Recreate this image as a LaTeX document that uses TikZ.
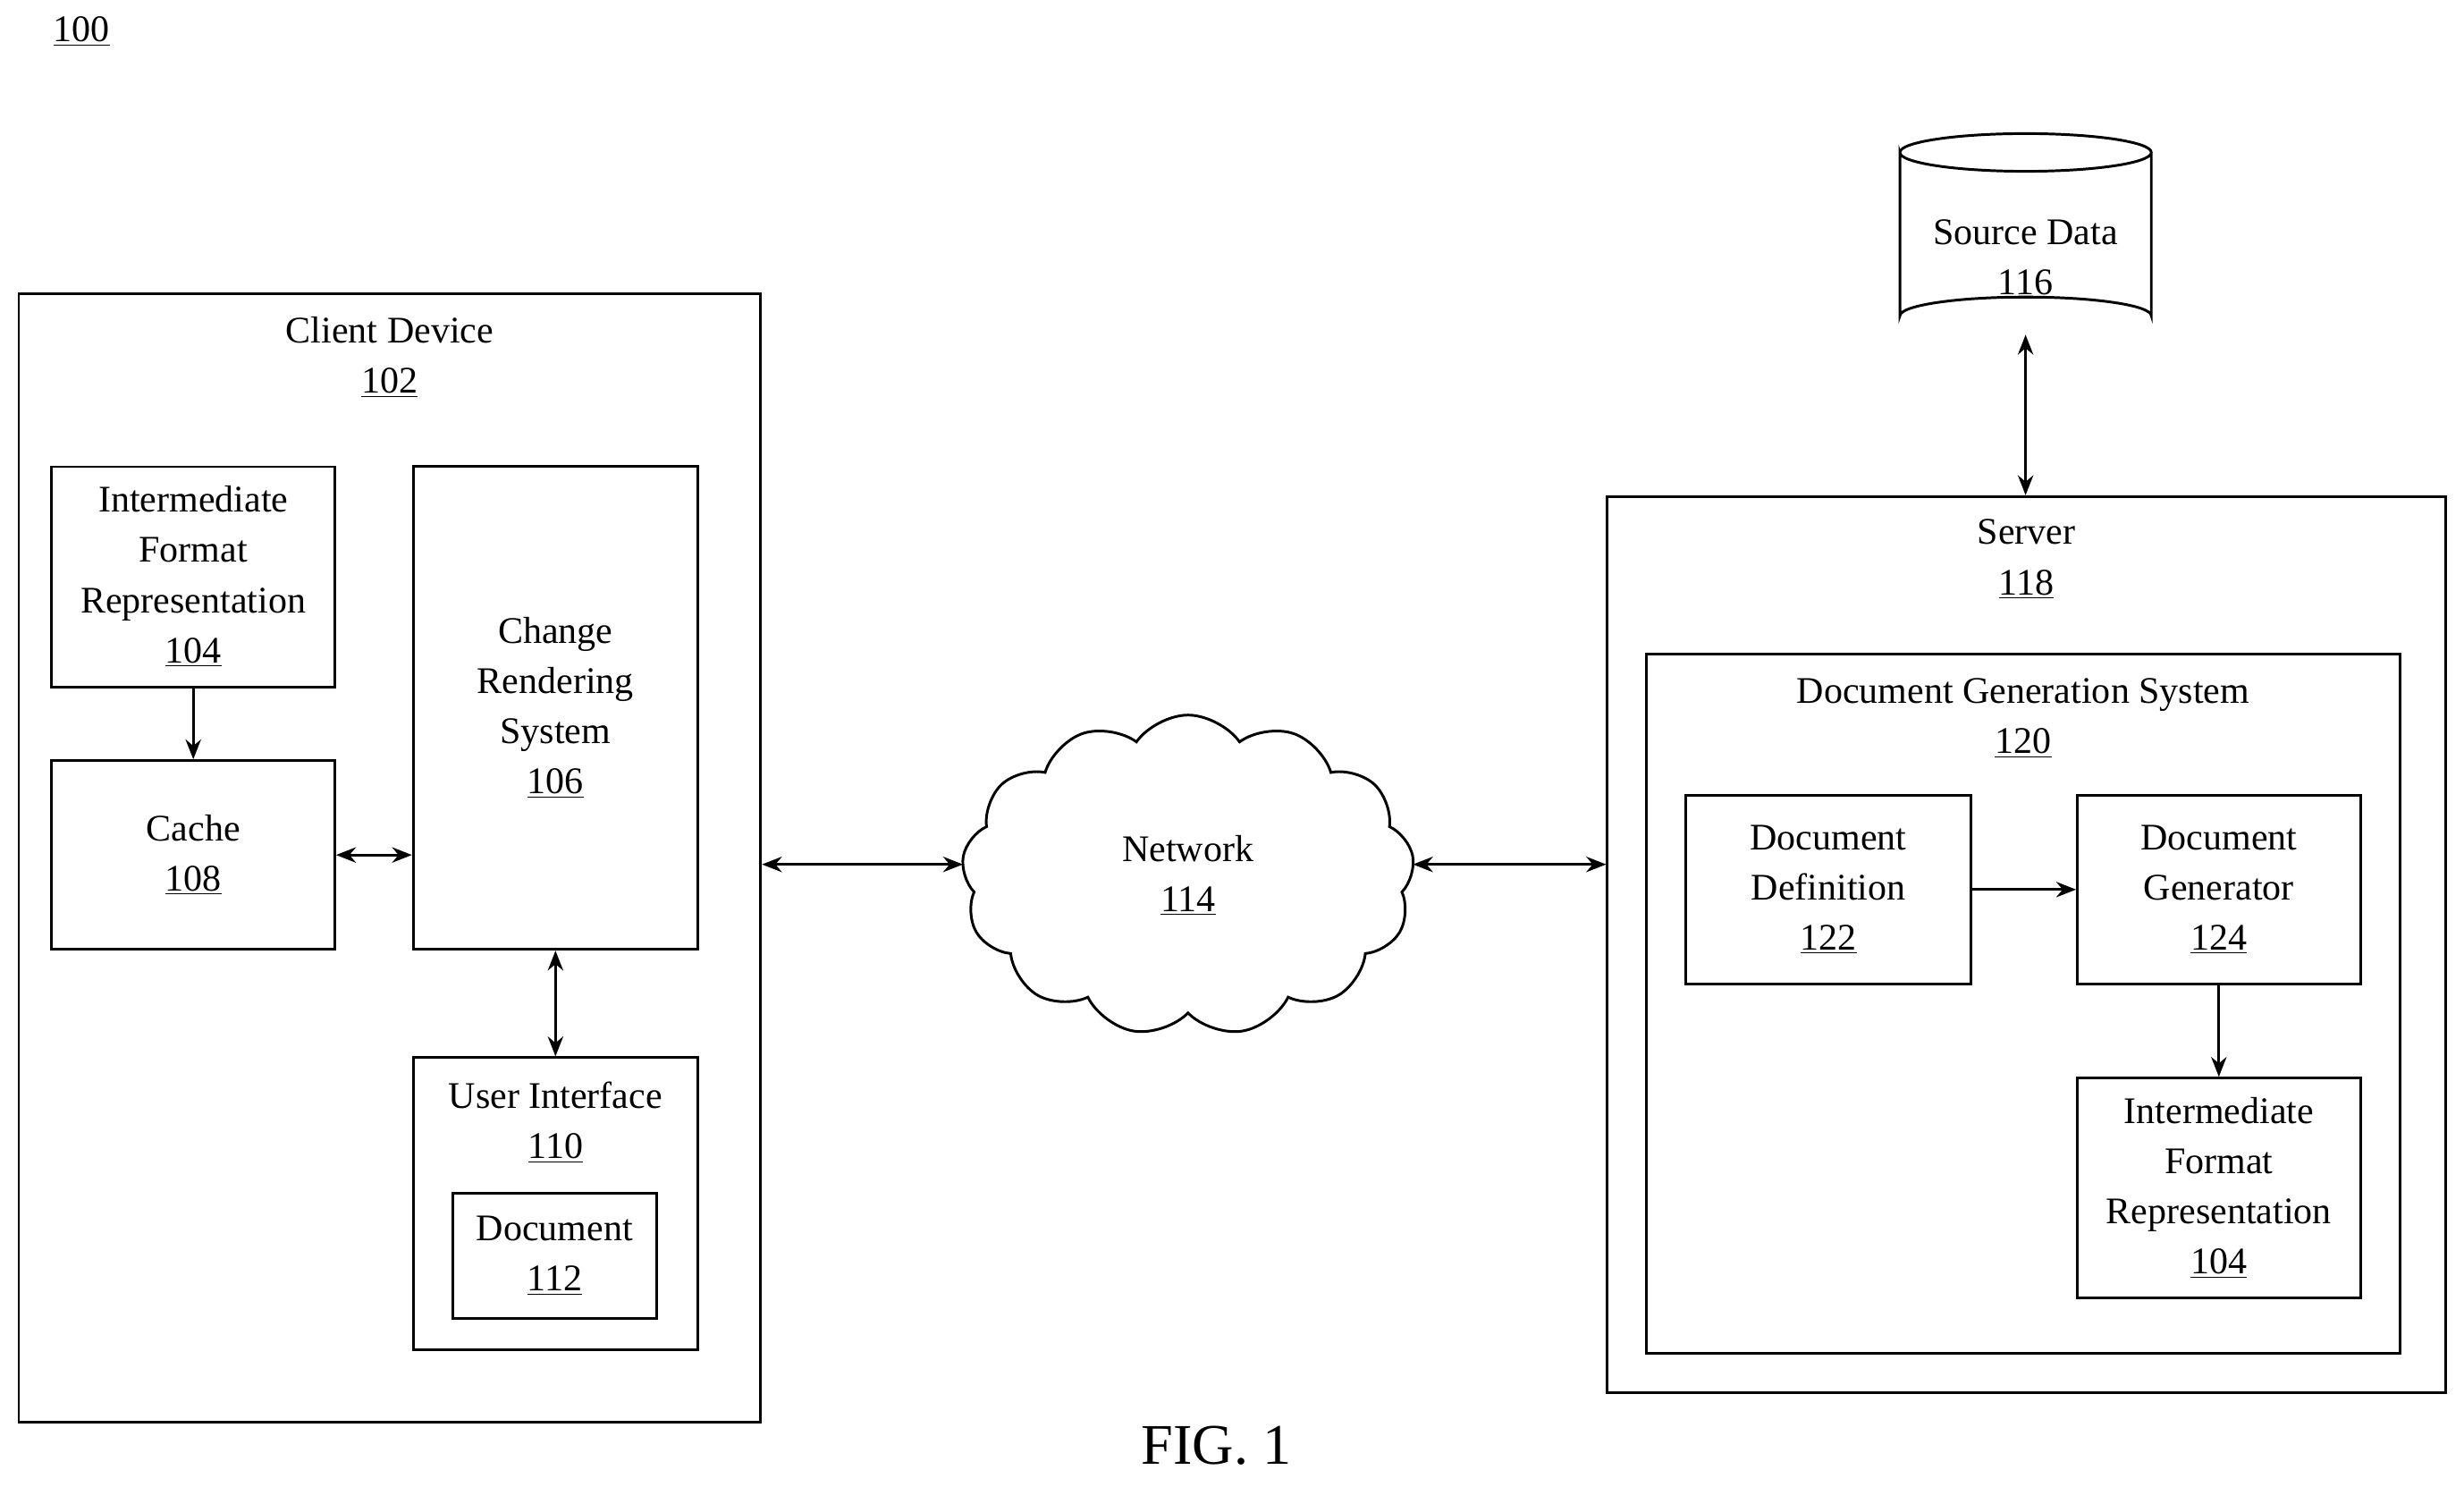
\documentclass[tikz,border=0pt]{standalone}
\usepackage{fontspec}
\setmainfont{Liberation Serif}
\usetikzlibrary{shapes.symbols,arrows.meta}
\begin{document}
\begin{tikzpicture}[x=0.025cm,y=-0.025cm,
  box/.style={draw,line width=1.2pt,rectangle,inner sep=0pt,align=center,font=\fontsize{17}{22.7}\selectfont},
  lab/.style={align=center,font=\fontsize{17}{22.7}\selectfont,inner sep=0pt},
  arr/.style={line width=1.1pt,-{Stealth[length=9pt,width=7pt]}},
  darr/.style={line width=1.1pt,{Stealth[length=9pt,width=7pt]}-{Stealth[length=9pt,width=7pt]}}]
\useasboundingbox (0,0) rectangle (1568,946);
\node[lab] (l100) at (52,20) {\underline{100}};
% client
\node[box,minimum width=11.8cm,minimum height=17.95cm] (client) at (248,546) {};
\node[lab] (clientt) at (248,227.5) {Client Device\\\underline{102}};
\node[box,minimum width=4.5cm,minimum height=3.5cm] (ifr1) at (123,367) {Intermediate\\Format\\Representation\\\underline{104}};
\node[box,minimum width=4.5cm,minimum height=3cm] (cache) at (123,544) {Cache\\\underline{108}};
\node[box,minimum width=4.525cm,minimum height=7.675cm] (crs) at (353.5,450.5) {Change\\Rendering\\System\\\underline{106}};
\node[box,minimum width=4.525cm,minimum height=4.65cm] (ui) at (353.5,766) {};
\node[lab] (uit) at (353.5,714) {User Interface\\\underline{110}};
\node[box,minimum width=3.25cm,minimum height=2cm] (doc) at (353,799) {Document\\\underline{112}};
% network
\node[cloud,draw,line width=1.2pt,cloud puffs=13,cloud puff arc=110,minimum width=7.2cm,minimum height=5.1cm,align=center,font=\fontsize{17}{22.7}\selectfont] (net) at (756,557) {Network\\\underline{114}};
% source data
\draw[line width=1.2pt] (1209,97) arc[start angle=180,end angle=360,x radius=80,y radius=12] arc[start angle=0,end angle=180,x radius=80,y radius=12] -- (1209,201) arc[start angle=180,end angle=360,x radius=80,y radius=12] -- (1369,97);
\node[lab] (src) at (1289,165) {Source Data\\\underline{116}};
\coordinate (srcb) at (1289,213);
% server
\node[box,minimum width=13.325cm,minimum height=14.25cm] (server) at (1289.5,601) {};
\node[lab] (servert) at (1289.5,356) {Server\\\underline{118}};
\node[box,minimum width=11.975cm,minimum height=11.125cm] (dgs) at (1287.5,638.5) {};
\node[lab] (dgst) at (1287.5,457) {Document Generation System\\\underline{120}};
\node[box,minimum width=4.525cm,minimum height=3cm] (def) at (1163.5,566) {Document\\Definition\\\underline{122}};
\node[box,minimum width=4.5cm,minimum height=3cm] (gen) at (1412,566) {Document\\Generator\\\underline{124}};
\node[box,minimum width=4.5cm,minimum height=3.5cm] (ifr2) at (1412,756) {Intermediate\\Format\\Representation\\\underline{104}};
\node[font=\fontsize{26}{30}\selectfont] (fig) at (774,920) {FIG. 1};
% arrows
\draw[arr] (ifr1) -- (cache);
\draw[darr] (cache) -- (cache -| crs.west);
\draw[darr] (crs) -- (ui);
\draw[darr] (client.east |- 0,550) -- (net.west |- 0,550);
\draw[darr] (net.east |- 0,550) -- (server.west |- 0,550);
\draw[darr] (srcb) -- (server.north -| srcb);
\draw[arr] (def) -- (gen);
\draw[arr] (gen) -- (ifr2);
\end{tikzpicture}
\end{document}
